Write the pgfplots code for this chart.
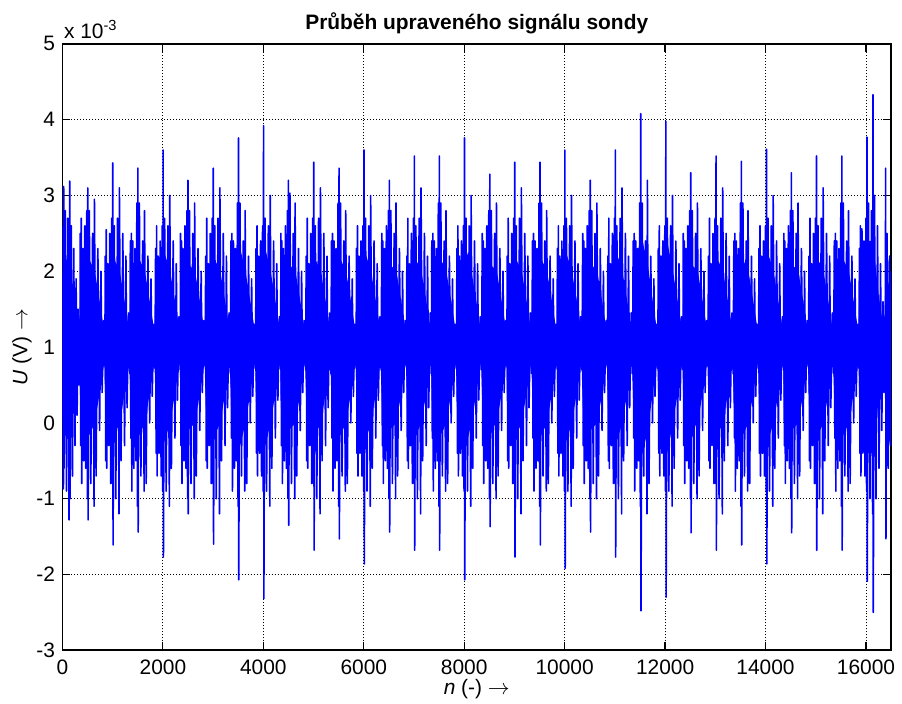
\documentclass[border=0pt]{standalone}
\usepackage{fontspec}
\setmainfont{Liberation Sans}
\usepackage{pgfplots}
\pgfplotsset{compat=1.18}
\usepgfplotslibrary{fillbetween}
\begin{document}
\fontsize{10.5}{12.5}\selectfont
\begin{tikzpicture}
\begin{axis}[
  at={(0,0)}, anchor=south west,
  scale only axis, width=416pt, height=304.5pt,
  xmin=0, xmax=16500, ymin=-3, ymax=5,
  xtick={0,2000,4000,6000,8000,10000,12000,14000,16000},
  ytick={-3,-2,-1,0,1,2,3,4,5},
  scaled x ticks=false, scaled y ticks=false,
  /pgf/number format/assume math mode=true,
  /pgf/number format/1000 sep={},
  ticklabel style={font=\fontsize{10.5}{12.5}\selectfont},
  xticklabel style={yshift=-1pt},
  tick align=inside,
  major tick length=4pt,
  tick style={black, line width=0.6pt},
  axis line style={black, line width=0.9pt},
  grid=major,
  major grid style={black, line width=0.45pt, dash pattern=on 0.5pt off 1pt},
  every axis title shift=0pt,
  title={\bfseries Průběh upraveného signálu sondy},
  title style={at={(0.5,1)}, anchor=base, inner sep=0pt, yshift=7pt, font=\fontsize{10.5}{12.5}\selectfont},
  xlabel={\textit{n} (-) $\rightarrow$},
  xlabel style={at={(axis description cs:0.5,0)}, anchor=base, inner sep=0pt, yshift=-22pt},
  ylabel={\textit{U} (V) $\rightarrow$},
  ylabel style={at={(axis description cs:-0.0488,0.5)}, anchor=center, inner sep=0pt},
]
% dense core of the signal (upper and lower edge)
\addplot[name path=cu, draw=none, mark=none, forget plot] coordinates {
(0,1.9) (25,2.2) (145,2.1) (250,1.6) (330,1.2)
(357,1.8) (505,2.2) (645,2.0) (755,1.55) (835,1.2)
(854,1.8) (1002,2.2) (1142,2.0) (1252,1.55) (1332,1.2)
(1354,1.8) (1502,2.2) (1642,2.0) (1752,1.55) (1832,1.2)
(1857,1.8) (2005,2.3) (2145,2.0) (2255,1.55) (2335,1.2)
(2352,1.8) (2500,2.1) (2640,2.0) (2750,1.55) (2830,1.2)
(2855,1.8) (3003,2.2) (3143,2.0) (3253,1.55) (3333,1.2)
(3357,1.8) (3505,2.4) (3645,2.0) (3755,1.55) (3835,1.2)
(3857,1.8) (4005,2.4) (4145,2.0) (4255,1.55) (4335,1.2)
(4352,1.8) (4500,2.1) (4640,2.0) (4750,1.55) (4830,1.2)
(4857,1.8) (5005,2.2) (5145,2.0) (5255,1.55) (5335,1.2)
(5360,1.8) (5508,2.2) (5648,2.0) (5758,1.55) (5838,1.2)
(5857,1.8) (6005,2.3) (6145,2.0) (6255,1.55) (6335,1.2)
(6362,1.8) (6510,2.1) (6650,2.0) (6760,1.55) (6840,1.2)
(6860,1.8) (7008,2.2) (7148,2.0) (7258,1.55) (7338,1.2)
(7357,1.8) (7505,2.2) (7645,2.0) (7755,1.55) (7835,1.2)
(7857,1.8) (8005,2.4) (8145,2.0) (8255,1.55) (8335,1.2)
(8362,1.8) (8510,2.1) (8650,2.0) (8760,1.55) (8840,1.2)
(8858,1.8) (9006,2.2) (9146,2.0) (9256,1.55) (9336,1.2)
(9362,1.8) (9510,2.2) (9650,2.0) (9760,1.55) (9840,1.2)
(9857,1.8) (10005,2.3) (10145,2.0) (10255,1.55) (10335,1.2)
(10362,1.8) (10510,2.1) (10650,2.0) (10760,1.55) (10840,1.2)
(10862,1.8) (11010,2.3) (11150,2.0) (11260,1.55) (11340,1.2)
(11367,1.8) (11515,2.5) (11655,2.1) (11765,1.55) (11845,1.2)
(11867,1.8) (12015,2.5) (12155,2.0) (12265,1.55) (12345,1.2)
(12364,1.8) (12512,2.1) (12652,2.0) (12762,1.55) (12842,1.2)
(12867,1.8) (13015,2.2) (13155,2.0) (13265,1.55) (13345,1.2)
(13372,1.8) (13520,2.2) (13660,2.0) (13770,1.55) (13850,1.2)
(13872,1.8) (14020,2.3) (14160,2.0) (14270,1.55) (14350,1.2)
(14367,1.8) (14515,2.1) (14655,2.0) (14765,1.55) (14845,1.2)
(14867,1.8) (15015,2.2) (15155,2.0) (15265,1.55) (15345,1.2)
(15372,1.8) (15520,2.2) (15660,2.0) (15770,1.55) (15850,1.2)
(15872,1.8) (16020,2.4) (16140,2.4) (16250,1.7) (16360,1.2) (16392,2.0) (16500,1.7)
};
\addplot[name path=cl, draw=none, mark=none, forget plot] coordinates {
(0,0.1) (25,-0.2) (145,-0.1) (250,0.4) (330,0.8)
(357,0.2) (505,-0.2) (645,0.0) (755,0.45) (835,0.8)
(854,0.2) (1002,-0.2) (1142,0.0) (1252,0.45) (1332,0.8)
(1354,0.2) (1502,-0.2) (1642,0.0) (1752,0.45) (1832,0.8)
(1857,0.2) (2005,-0.3) (2145,0.0) (2255,0.45) (2335,0.8)
(2352,0.2) (2500,-0.1) (2640,0.0) (2750,0.45) (2830,0.8)
(2855,0.2) (3003,-0.2) (3143,0.0) (3253,0.45) (3333,0.8)
(3357,0.2) (3505,-0.4) (3645,0.0) (3755,0.45) (3835,0.8)
(3857,0.2) (4005,-0.4) (4145,0.0) (4255,0.45) (4335,0.8)
(4352,0.2) (4500,-0.1) (4640,0.0) (4750,0.45) (4830,0.8)
(4857,0.2) (5005,-0.2) (5145,0.0) (5255,0.45) (5335,0.8)
(5360,0.2) (5508,-0.2) (5648,0.0) (5758,0.45) (5838,0.8)
(5857,0.2) (6005,-0.3) (6145,0.0) (6255,0.45) (6335,0.8)
(6362,0.2) (6510,-0.1) (6650,0.0) (6760,0.45) (6840,0.8)
(6860,0.2) (7008,-0.2) (7148,0.0) (7258,0.45) (7338,0.8)
(7357,0.2) (7505,-0.2) (7645,0.0) (7755,0.45) (7835,0.8)
(7857,0.2) (8005,-0.4) (8145,0.0) (8255,0.45) (8335,0.8)
(8362,0.2) (8510,-0.1) (8650,0.0) (8760,0.45) (8840,0.8)
(8858,0.2) (9006,-0.2) (9146,0.0) (9256,0.45) (9336,0.8)
(9362,0.2) (9510,-0.2) (9650,0.0) (9760,0.45) (9840,0.8)
(9857,0.2) (10005,-0.3) (10145,0.0) (10255,0.45) (10335,0.8)
(10362,0.2) (10510,-0.1) (10650,0.0) (10760,0.45) (10840,0.8)
(10862,0.2) (11010,-0.3) (11150,0.0) (11260,0.45) (11340,0.8)
(11367,0.2) (11515,-0.5) (11655,-0.1) (11765,0.45) (11845,0.8)
(11867,0.2) (12015,-0.5) (12155,0.0) (12265,0.45) (12345,0.8)
(12364,0.2) (12512,-0.1) (12652,0.0) (12762,0.45) (12842,0.8)
(12867,0.2) (13015,-0.2) (13155,0.0) (13265,0.45) (13345,0.8)
(13372,0.2) (13520,-0.2) (13660,0.0) (13770,0.45) (13850,0.8)
(13872,0.2) (14020,-0.3) (14160,0.0) (14270,0.45) (14350,0.8)
(14367,0.2) (14515,-0.1) (14655,0.0) (14765,0.45) (14845,0.8)
(14867,0.2) (15015,-0.2) (15155,0.0) (15265,0.45) (15345,0.8)
(15372,0.2) (15520,-0.2) (15660,0.0) (15770,0.45) (15850,0.8)
(15872,0.2) (16020,-0.4) (16140,-0.4) (16250,0.3) (16360,0.8) (16392,0.0) (16500,0.3)
};
\addplot[blue, forget plot] fill between[of=cu and cl];
% the signal itself
\addplot[blue, line width=0.8pt, line join=round, mark=none] coordinates {
(0,2.6) (6,-0.4) (14,2.4) (20,-0.87) (25,3.12) (32,-0.6) (55,2.8) (80,-0.9) (105,2.7) (131,-1.28) (145,3.19) (152,-1.0) (175,2.6) (200,-0.7) (225,2.3) (250,-0.3) (272,1.9) (292,0.1) (312,1.5) (326,0.5) (338,1.3) (348,0.75)
(355,2.5) (365,-0.3) (375,2.7) (385,-0.8) (405,2.3) (425,-0.5) (445,2.6) (465,-0.6) (485,2.8) (497,-1.0) (505,3.10) (511,-1.28) (535,2.8) (565,-0.8) (600,2.5) (630,-1.1) (637,2.95) (670,-0.7) (705,2.3) (740,-0.1) (767,2.0) (790,0.4) (820,1.35) (845,0.75)
(852,2.2) (862,-0.5) (872,2.55) (882,-0.6) (902,2.1) (922,-0.3) (942,2.5) (962,-0.8) (982,2.7) (994,-0.8) (1002,3.43) (1008,-1.61) (1032,2.6) (1062,-1.0) (1097,2.7) (1127,-1.2) (1134,3.1) (1167,-0.5) (1202,2.5) (1237,-0.3) (1264,2.2) (1287,0.2) (1317,1.45) (1342,0.65)
(1352,2.4) (1362,-0.2) (1372,2.5) (1382,-0.9) (1402,2.4) (1422,-0.6) (1442,2.3) (1462,-0.5) (1482,2.9) (1494,-1.1) (1502,3.36) (1508,-1.44) (1532,2.9) (1562,-0.7) (1597,2.4) (1627,-0.9) (1634,2.8) (1667,-0.8) (1702,2.2) (1737,0.0) (1764,1.9) (1787,0.35) (1817,1.3) (1842,0.72)
(1855,2.3) (1865,-0.4) (1875,2.6) (1885,-0.7) (1905,2.2) (1925,-0.4) (1945,2.4) (1965,-0.7) (1985,2.6) (1997,-0.9) (2005,3.60) (2011,-1.77) (2035,2.7) (2065,-0.9) (2100,2.6) (2130,-1.1) (2137,3.0) (2170,-0.6) (2205,2.4) (2240,-0.2) (2267,2.1) (2290,0.3) (2320,1.4) (2345,0.7)
(2350,2.5) (2360,-0.3) (2370,2.4) (2380,-0.8) (2400,2.3) (2420,-0.5) (2440,2.6) (2460,-0.6) (2480,2.8) (2492,-1.0) (2500,3.20) (2506,-1.20) (2530,2.8) (2560,-0.8) (2595,2.5) (2625,-1.0) (2632,2.9) (2665,-0.7) (2700,2.3) (2735,-0.1) (2762,2.0) (2785,0.4) (2815,1.35) (2840,0.75)
(2853,2.2) (2863,-0.5) (2873,2.7) (2883,-0.6) (2903,2.1) (2923,-0.3) (2943,2.5) (2963,-0.8) (2983,2.7) (2995,-0.8) (3003,3.36) (3009,-1.60) (3033,2.6) (3063,-1.0) (3098,2.7) (3128,-1.2) (3135,3.1) (3168,-0.5) (3203,2.5) (3238,-0.3) (3265,2.2) (3288,0.2) (3318,1.45) (3343,0.65)
(3355,2.4) (3365,-0.2) (3375,2.5) (3385,-0.9) (3405,2.4) (3425,-0.6) (3445,2.3) (3465,-0.5) (3485,2.9) (3497,-1.1) (3505,3.76) (3511,-2.07) (3535,2.9) (3565,-0.7) (3600,2.4) (3630,-0.9) (3637,2.8) (3670,-0.8) (3705,2.2) (3740,0.0) (3767,1.9) (3790,0.35) (3820,1.3) (3845,0.72)
(3855,2.3) (3865,-0.4) (3875,2.6) (3885,-0.7) (3905,2.2) (3925,-0.4) (3945,2.4) (3965,-0.7) (3985,2.6) (3997,-0.9) (4005,3.92) (4011,-2.32) (4035,2.7) (4065,-0.9) (4100,2.6) (4130,-1.1) (4137,3.0) (4170,-0.6) (4205,2.4) (4240,-0.2) (4267,2.1) (4290,0.3) (4320,1.4) (4345,0.7)
(4350,2.5) (4360,-0.3) (4370,2.4) (4380,-0.8) (4400,2.3) (4420,-0.5) (4440,2.6) (4460,-0.6) (4480,2.8) (4492,-1.0) (4500,3.20) (4506,-1.35) (4530,3.03) (4560,-0.8) (4595,2.5) (4625,-1.0) (4632,2.9) (4665,-0.7) (4700,2.3) (4735,-0.1) (4762,2.0) (4785,0.4) (4815,1.35) (4840,0.75)
(4855,2.2) (4865,-0.5) (4875,2.7) (4885,-0.6) (4905,2.1) (4925,-0.3) (4945,2.5) (4965,-0.8) (4985,2.7) (4997,-0.8) (5005,3.44) (5011,-1.68) (5035,2.6) (5065,-1.0) (5100,2.7) (5130,-1.2) (5137,3.1) (5170,-0.5) (5205,2.5) (5240,-0.3) (5267,2.2) (5290,0.2) (5320,1.45) (5345,0.65)
(5358,2.4) (5368,-0.2) (5378,2.5) (5388,-0.9) (5408,2.4) (5428,-0.6) (5448,2.3) (5468,-0.5) (5488,2.9) (5500,-1.1) (5508,3.36) (5514,-1.53) (5538,2.9) (5568,-0.7) (5603,2.4) (5633,-0.9) (5640,2.8) (5673,-0.8) (5708,2.2) (5743,0.0) (5770,1.9) (5793,0.35) (5823,1.3) (5848,0.72)
(5855,2.3) (5865,-0.4) (5875,2.6) (5885,-0.7) (5905,2.2) (5925,-0.4) (5945,2.4) (5965,-0.7) (5985,2.6) (5997,-0.9) (6005,3.60) (6011,-1.86) (6035,2.7) (6065,-0.9) (6100,2.6) (6130,-1.1) (6137,3.0) (6170,-0.6) (6205,2.4) (6240,-0.2) (6267,2.1) (6290,0.3) (6320,1.4) (6345,0.7)
(6360,2.5) (6370,-0.3) (6380,2.4) (6390,-0.8) (6410,2.3) (6430,-0.5) (6450,2.6) (6470,-0.6) (6490,2.8) (6502,-1.0) (6510,3.20) (6516,-1.44) (6540,2.8) (6570,-0.8) (6605,2.5) (6635,-1.0) (6642,2.9) (6675,-0.7) (6710,2.3) (6745,-0.1) (6772,2.0) (6795,0.4) (6825,1.35) (6850,0.75)
(6858,2.2) (6868,-0.5) (6878,2.7) (6888,-0.6) (6908,2.1) (6928,-0.3) (6948,2.5) (6968,-0.8) (6988,2.7) (7000,-0.8) (7008,3.52) (7014,-1.68) (7038,2.6) (7068,-1.0) (7103,2.7) (7133,-1.2) (7140,3.1) (7173,-0.5) (7208,2.5) (7243,-0.3) (7270,2.2) (7293,0.2) (7323,1.45) (7348,0.65)
(7355,2.4) (7365,-0.2) (7375,2.5) (7385,-0.9) (7405,2.4) (7425,-0.6) (7445,2.3) (7465,-0.5) (7485,2.9) (7497,-1.1) (7505,3.52) (7511,-1.68) (7535,2.9) (7565,-0.7) (7600,2.4) (7630,-0.9) (7637,2.8) (7670,-0.8) (7705,2.2) (7740,0.0) (7767,1.9) (7790,0.35) (7820,1.3) (7845,0.72)
(7855,2.3) (7865,-0.4) (7875,2.6) (7885,-0.7) (7905,2.2) (7925,-0.4) (7945,2.4) (7965,-0.7) (7985,2.6) (7997,-0.9) (8005,3.76) (8011,-2.07) (8035,2.7) (8065,-0.9) (8100,2.6) (8130,-1.1) (8137,3.0) (8170,-0.6) (8205,2.4) (8240,-0.2) (8267,2.1) (8290,0.3) (8320,1.4) (8345,0.7)
(8360,2.5) (8370,-0.3) (8380,2.4) (8390,-0.8) (8410,2.3) (8430,-0.5) (8450,2.6) (8470,-0.6) (8490,2.8) (8502,-1.0) (8510,3.28) (8516,-1.37) (8540,2.8) (8570,-0.8) (8605,2.5) (8635,-1.0) (8642,2.9) (8675,-0.7) (8710,2.3) (8745,-0.1) (8772,2.0) (8795,0.4) (8825,1.35) (8850,0.75)
(8856,2.2) (8866,-0.5) (8876,2.7) (8886,-0.6) (8906,2.1) (8926,-0.3) (8946,2.5) (8966,-0.8) (8986,2.7) (8998,-0.8) (9006,3.44) (9012,-1.77) (9036,2.6) (9066,-1.0) (9101,2.7) (9131,-1.2) (9138,3.1) (9171,-0.5) (9206,2.5) (9241,-0.3) (9268,2.2) (9291,0.2) (9321,1.45) (9346,0.65)
(9360,2.4) (9370,-0.2) (9380,2.5) (9390,-0.9) (9410,2.4) (9430,-0.6) (9450,2.3) (9470,-0.5) (9490,2.9) (9502,-1.1) (9510,3.44) (9516,-1.61) (9540,2.9) (9570,-0.7) (9605,2.4) (9635,-0.9) (9642,2.8) (9675,-0.8) (9710,2.2) (9745,0.0) (9772,1.9) (9795,0.35) (9825,1.3) (9850,0.72)
(9855,2.3) (9865,-0.4) (9875,2.6) (9885,-0.7) (9905,2.2) (9925,-0.4) (9945,2.4) (9965,-0.7) (9985,2.6) (9997,-0.9) (10005,3.60) (10011,-1.92) (10035,2.7) (10065,-0.9) (10100,2.6) (10130,-1.1) (10137,3.0) (10170,-0.6) (10205,2.4) (10240,-0.2) (10267,2.1) (10290,0.3) (10320,1.4) (10345,0.7)
(10360,2.5) (10370,-0.3) (10380,2.4) (10390,-0.8) (10410,2.3) (10430,-0.5) (10450,2.6) (10470,-0.6) (10490,2.8) (10502,-1.0) (10510,3.20) (10516,-1.44) (10540,2.8) (10570,-0.8) (10605,2.5) (10635,-1.0) (10642,2.9) (10675,-0.7) (10710,2.3) (10745,-0.1) (10772,2.0) (10795,0.4) (10825,1.35) (10850,0.75)
(10860,2.2) (10870,-0.5) (10880,2.7) (10890,-0.6) (10910,2.1) (10930,-0.3) (10950,2.5) (10970,-0.8) (10990,2.7) (11002,-0.8) (11010,3.60) (11016,-1.77) (11040,2.6) (11070,-1.0) (11105,2.7) (11135,-1.2) (11142,3.1) (11175,-0.5) (11210,2.5) (11245,-0.3) (11272,2.2) (11295,0.2) (11325,1.45) (11350,0.65)
(11365,2.4) (11375,-0.2) (11385,2.5) (11395,-0.9) (11415,2.4) (11435,-0.6) (11455,2.3) (11475,-0.5) (11495,2.9) (11507,-1.1) (11515,4.08) (11521,-2.48) (11545,2.9) (11575,-0.7) (11610,2.4) (11640,-1.2) (11647,3.2) (11680,-0.8) (11715,2.2) (11750,0.0) (11777,1.9) (11800,0.35) (11830,1.3) (11855,0.72)
(11865,2.3) (11875,-0.4) (11885,2.6) (11895,-0.7) (11915,2.2) (11935,-0.4) (11955,2.4) (11975,-0.7) (11995,2.6) (12007,-0.9) (12015,3.98) (12021,-2.30) (12045,2.7) (12075,-0.9) (12110,2.6) (12140,-1.1) (12147,3.0) (12180,-0.6) (12215,2.4) (12250,-0.2) (12277,2.1) (12300,0.3) (12330,1.4) (12355,0.7)
(12362,2.5) (12372,-0.3) (12382,2.4) (12392,-0.8) (12412,2.3) (12432,-0.5) (12452,2.6) (12472,-0.6) (12492,2.8) (12504,-1.0) (12512,3.30) (12518,-1.45) (12542,2.8) (12572,-0.8) (12607,2.5) (12637,-1.0) (12644,2.9) (12677,-0.7) (12712,2.3) (12747,-0.1) (12774,2.0) (12797,0.4) (12827,1.35) (12852,0.75)
(12865,2.2) (12875,-0.5) (12885,2.7) (12895,-0.6) (12915,2.1) (12935,-0.3) (12955,2.5) (12975,-0.8) (12995,2.7) (13007,-0.8) (13015,3.52) (13021,-1.68) (13045,2.6) (13075,-1.0) (13110,2.7) (13140,-1.2) (13147,3.1) (13180,-0.5) (13215,2.5) (13250,-0.3) (13277,2.2) (13300,0.2) (13330,1.45) (13355,0.65)
(13370,2.4) (13380,-0.2) (13390,2.5) (13400,-0.9) (13420,2.4) (13440,-0.6) (13460,2.3) (13480,-0.5) (13500,2.9) (13512,-1.1) (13520,3.45) (13526,-1.61) (13550,2.9) (13580,-0.7) (13615,2.4) (13645,-0.9) (13652,2.8) (13685,-0.8) (13720,2.2) (13755,0.0) (13782,1.9) (13805,0.35) (13835,1.3) (13860,0.72)
(13870,2.3) (13880,-0.4) (13890,2.6) (13900,-0.7) (13920,2.2) (13940,-0.4) (13960,2.4) (13980,-0.7) (14000,2.6) (14012,-0.9) (14020,3.61) (14026,-1.86) (14050,2.7) (14080,-0.9) (14115,2.6) (14145,-1.1) (14152,3.0) (14185,-0.6) (14220,2.4) (14255,-0.2) (14282,2.1) (14305,0.3) (14335,1.4) (14360,0.7)
(14365,2.5) (14375,-0.3) (14385,2.4) (14395,-0.8) (14415,2.3) (14435,-0.5) (14455,2.6) (14475,-0.6) (14495,2.8) (14507,-1.0) (14515,3.30) (14521,-1.45) (14545,2.8) (14575,-0.8) (14610,2.5) (14640,-1.0) (14647,2.9) (14680,-0.7) (14715,2.3) (14750,-0.1) (14777,2.0) (14800,0.4) (14830,1.35) (14855,0.75)
(14865,2.2) (14875,-0.5) (14885,2.7) (14895,-0.6) (14915,2.1) (14935,-0.3) (14955,2.5) (14975,-0.8) (14995,2.7) (15007,-0.8) (15015,3.52) (15021,-1.68) (15045,2.6) (15075,-1.0) (15110,2.7) (15140,-1.2) (15147,3.1) (15180,-0.5) (15215,2.5) (15250,-0.3) (15277,2.2) (15300,0.2) (15330,1.45) (15355,0.65)
(15370,2.4) (15380,-0.2) (15390,2.5) (15400,-0.9) (15420,2.4) (15440,-0.6) (15460,2.3) (15480,-0.5) (15500,2.9) (15512,-1.1) (15520,3.52) (15526,-1.68) (15550,2.9) (15580,-0.7) (15615,2.4) (15645,-0.9) (15652,2.8) (15685,-0.8) (15720,2.2) (15755,0.0) (15782,1.9) (15805,0.35) (15835,1.3) (15860,0.72)
(15870,2.3) (15880,-0.4) (15890,2.6) (15900,-0.7) (15920,2.56) (15940,-0.4) (15960,2.4) (15980,-0.7) (16000,2.7) (16012,-0.9) (16020,3.77) (16026,-2.09) (16050,2.9) (16080,-1.0) (16110,2.8) (16132,-1.2) (16140,4.33) (16146,-2.5) (16170,3.0) (16200,-1.0) (16230,2.6) (16260,-0.6) (16290,2.1) (16315,-0.1) (16340,1.6) (16360,0.4) (16375,1.4) (16384,0.6) (16392,3.36) (16398,-1.53) (16420,2.5) (16445,-0.6) (16470,2.2) (16490,-0.3) (16500,2.0)
};
\end{axis}
\node[anchor=base west, inner sep=0pt, font=\fontsize{10.5}{12.5}\selectfont] at (0.6pt,307pt) {x 10\textsuperscript{-3}};
\path (-31.35pt,-26.5pt) rectangle (419.65pt,326.5pt);
\end{tikzpicture}
\end{document}
